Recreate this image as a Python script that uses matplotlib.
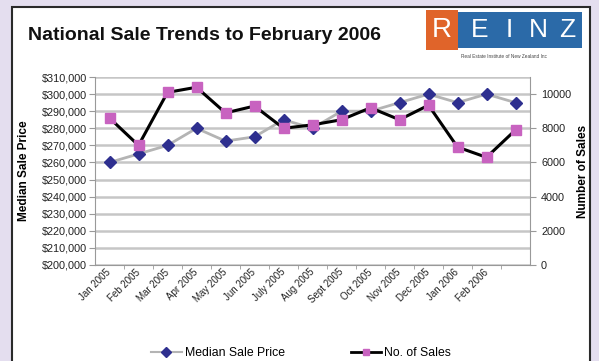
import matplotlib.pyplot as plt
import matplotlib.transforms as mtransforms
from matplotlib.patches import Rectangle
from matplotlib.lines import Line2D
from matplotlib.ticker import FuncFormatter

plt.rcParams['font.family'] = ['Liberation Sans', 'DejaVu Sans']

# Monthly data (last point has no label on the original axis)
months = ['Jan 2005', 'Feb 2005', 'Mar 2005', 'Apr 2005', 'May 2005', 'Jun 2005',
          'July 2005', 'Aug 2005', 'Sept 2005', 'Oct 2005', 'Nov 2005', 'Dec 2005',
          'Jan 2006', 'Feb 2006', '']
median_price = [260000, 265000, 270000, 280000, 272500, 275000, 285000, 280000,
                290000, 290000, 295000, 300000, 295000, 300000, 295000]
num_sales = [8600, 7000, 10100, 10400, 8900, 9300, 8000, 8200,
             8500, 9200, 8500, 9350, 6900, 6300, 7900]

fig = plt.figure(figsize=(5.99, 3.61), dpi=100, facecolor='#e4deef')

# white panel with dark border
fig.patches.append(Rectangle((12 / 599, -0.05), 578 / 599, 1 - 7 / 361 + 0.05,
                             transform=fig.transFigure, facecolor='white',
                             edgecolor='#2a2a2a', linewidth=1.5, zorder=-10))

fig.text(28 / 599, 1 - 35 / 361, 'National Sale Trends to February 2006',
         fontsize=14, fontweight='bold', va='center', ha='left', color='#111111')

# REINZ logo
fig.patches.append(Rectangle((426 / 599, 1 - 50 / 361), 32 / 599, 40 / 361,
                             transform=fig.transFigure, facecolor='#e0642a',
                             edgecolor='none', zorder=1))
fig.patches.append(Rectangle((458 / 599, 1 - 48 / 361), 124 / 599, 36 / 361,
                             transform=fig.transFigure, facecolor='#2b6aa8',
                             edgecolor='none', zorder=1))
fig.text(442 / 599, 1 - 30 / 361, 'R', fontsize=20, color='white',
         ha='center', va='center', zorder=2)
for i, ch in enumerate('EINZ'):
    fig.text((480 + i * 29) / 599, 1 - 30 / 361, ch, fontsize=19, color='white',
             ha='center', va='center', zorder=2)
fig.text(504 / 599, 1 - 57 / 361, 'Real Estate Institute of New Zealand Inc',
         fontsize=3.4, color='#444444', ha='center', va='center')

ax = fig.add_axes([95 / 599, 1 - 265 / 361, 435 / 599, 188 / 361])
ax.set_facecolor('none')
x = list(range(len(months)))

ax.plot(x, median_price, color='#b4b4b4', linewidth=2, marker='D',
        markersize=6.5, markerfacecolor='#2e2f8f', markeredgecolor='#2e2f8f',
        label='Median Sale Price', zorder=3)
ax.set_ylim(200000, 310000)
ax.set_yticks(range(200000, 310001, 10000))
ax.yaxis.set_major_formatter(FuncFormatter(lambda v, p: '${:,.0f}'.format(v)))
ax.set_xlim(-0.5, len(months) - 0.5)
ax.set_xticks(x)
ax.set_xticklabels(months, rotation=45, ha='right', va='center',
                   rotation_mode='anchor', fontsize=7, color='#222222')
shift = mtransforms.ScaledTranslation(-6 / 100, -6 / 100, fig.dpi_scale_trans)
for lbl in ax.get_xticklabels():
    lbl.set_transform(lbl.get_transform() + shift)
ax.set_xticks([i + 0.5 for i in x[:-1]], minor=True)
ax.tick_params(axis='x', which='major', length=0, pad=4)
ax.tick_params(axis='x', which='minor', length=3, color='#999999')
ax.tick_params(axis='y', labelsize=7.8, labelcolor='#222222', length=4,
               color='#999999', pad=2)
ax.grid(axis='y', color='#c6c6c6', linewidth=1.8)
ax.set_axisbelow(True)
for s in ['top', 'right']:
    ax.spines[s].set_visible(False)
for s in ['left', 'bottom']:
    ax.spines[s].set_color('#999999')
ax.set_ylabel('Median Sale Price', fontsize=8.5, fontweight='bold', labelpad=8)

ax2 = ax.twinx()
ax2.plot(x, num_sales, color='black', linewidth=2.2, marker='s', markersize=7,
         markerfacecolor='#c863c0', markeredgecolor='#c863c0',
         label='No. of Sales', zorder=4)
ax2.set_ylim(0, 11000)
ax2.set_yticks(range(0, 10001, 2000))
ax2.tick_params(axis='y', labelsize=7.8, labelcolor='#222222', length=4,
                color='#999999', pad=4)
for s in ['top', 'left', 'bottom']:
    ax2.spines[s].set_visible(False)
ax2.spines['right'].set_color('#999999')
ax2.set_ylabel('Number of Sales', fontsize=8.5, fontweight='bold', labelpad=4)

handles = [
    Line2D([], [], color='#b4b4b4', linewidth=1.5, marker='D', markersize=5,
           markerfacecolor='#2e2f8f', markeredgecolor='#2e2f8f'),
    Line2D([], [], color='black', linewidth=2, marker='s', markersize=5,
           markerfacecolor='#c863c0', markeredgecolor='#c863c0'),
]
fig.legend(handles, ['Median Sale Price', 'No. of Sales'], loc='center',
           bbox_to_anchor=(301 / 599, 1 - 353 / 361), ncol=2, frameon=False,
           fontsize=8.8, handlelength=2.5, handletextpad=0.25,
           columnspacing=5.4, borderpad=0)

fig.savefig('out.png', dpi=100, facecolor=fig.get_facecolor())
